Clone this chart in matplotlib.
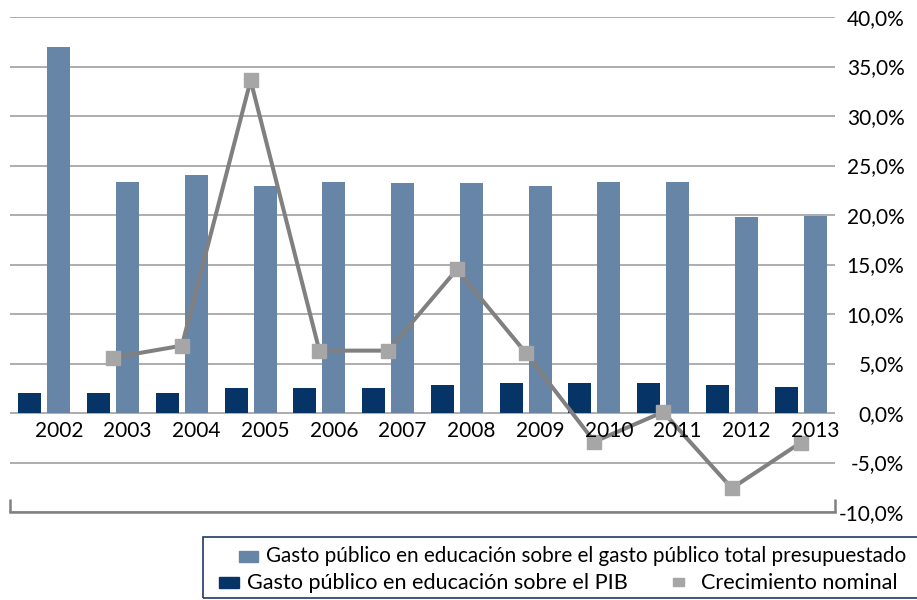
import numpy as np
import matplotlib
matplotlib.use("Agg")
import matplotlib.pyplot as plt
from matplotlib.patches import Rectangle
from matplotlib.ticker import FuncFormatter, MultipleLocator

plt.rcParams['font.family'] = ['Lato', 'DejaVu Sans']

years = ['2002', '2003', '2004', '2005', '2006', '2007', '2008', '2009', '2010', '2011', '2012', '2013']
gasto_total = [37.0, 23.3, 24.0, 22.9, 23.3, 23.2, 23.2, 22.9, 23.3, 23.3, 19.8, 19.9]
gasto_pib = [2.0, 2.0, 2.0, 2.5, 2.5, 2.5, 2.8, 3.0, 3.0, 3.0, 2.8, 2.65]
crecimiento = [np.nan, 5.6, 6.8, 33.6, 6.3, 6.3, 14.5, 6.1, -2.9, 0.1, -7.6, -3.0]

label_total = 'Gasto público en educación sobre el gasto público total presupuestado'
label_pib = 'Gasto público en educación sobre el PIB'
label_crec = 'Crecimiento nominal'

c_light = '#6785a7'
c_dark = '#063467'
c_line = '#808080'
c_marker = '#a6a6a6'

W, H = 917, 600
fig = plt.figure(figsize=(W / 100, H / 100), dpi=100)
ax = fig.add_axes([10 / W, 1 - 512 / H, 825 / W, 495 / H])

x = np.arange(len(years))
bw = 0.335
off = 0.21
ax.bar(x - off, gasto_pib, width=bw, color=c_dark, zorder=2)
ax.bar(x + off, gasto_total, width=bw, color=c_light, zorder=2)
ax.plot(x, crecimiento, color=c_line, lw=2.9, marker='s', markersize=10,
        markerfacecolor=c_marker, markeredgecolor=c_marker, zorder=3)

ax.set_xlim(-0.5, 11.5)
ax.set_ylim(-10, 40)
ax.yaxis.set_major_locator(MultipleLocator(5))
ax.yaxis.tick_right()
ax.yaxis.set_major_formatter(FuncFormatter(lambda v, p: ('%.1f%%' % v).replace('.', ',')))
ax.tick_params(axis='y', length=0, pad=50, labelsize=15)
for lab in ax.get_yticklabels():
    lab.set_horizontalalignment('right')
ax.grid(axis='y', color='#a0a0a0', lw=1.2, zorder=0)

for s in ['left', 'right', 'top']:
    ax.spines[s].set_visible(False)
ax.spines['bottom'].set_color(c_line)
ax.spines['bottom'].set_linewidth(1.8)

ax.set_xticks([])
ax.set_xticks([-0.5, 11.5], minor=True)
ax.tick_params(axis='x', which='minor', direction='in', length=9.4, width=1.8, color=c_line)

for i, y in enumerate(years):
    ax.annotate(y, xy=(i + 0.21, 0), xytext=(0, -6), textcoords='offset points',
                ha='center', va='top', fontsize=15, zorder=4)

# legend
def fx(px):
    return px / W

def fy(py):
    return 1 - py / H

fig.patches.append(Rectangle((fx(203), fy(598)), fx(930) - fx(203), fy(537) - fy(598),
                             transform=fig.transFigure, fill=False, edgecolor='#1f3b64', lw=1.2))
fig.patches.append(Rectangle((fx(239), fy(562)), fx(258) - fx(239), fy(551) - fy(562),
                             transform=fig.transFigure, color=c_light))
fig.text(fx(266), fy(556.5), label_total, fontsize=14.85, va='center', ha='left')
fig.patches.append(Rectangle((fx(219), fy(588)), fx(239) - fx(219), fy(577) - fy(588),
                             transform=fig.transFigure, color=c_dark))
fig.text(fx(247), fy(583), label_pib, fontsize=15.6, va='center', ha='left')
fig.patches.append(Rectangle((fx(673), fy(585.5)), fx(684) - fx(673), fy(578) - fy(585.5),
                             transform=fig.transFigure, color=c_marker))
fig.text(fx(701), fy(583), label_crec, fontsize=15.6, va='center', ha='left')

fig.savefig('out.png', dpi=100)
